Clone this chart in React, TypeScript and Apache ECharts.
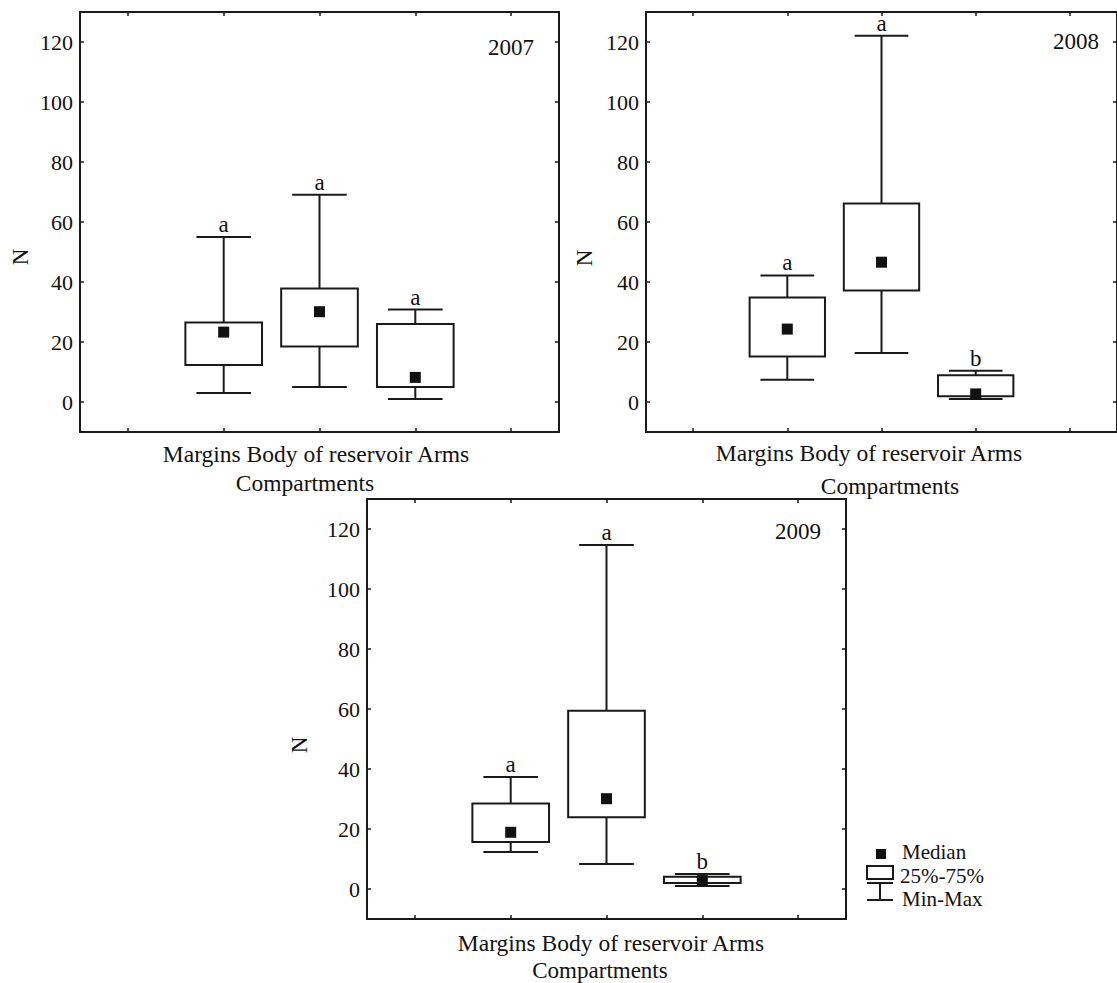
import React, { useEffect, useRef } from "react";
import * as echarts from "echarts";

const categories = ["Margins", "Body of reservoir", "Arms"];
const years = ["2007", "2008", "2009"];
const yTicks = [0, 20, 40, 60, 80, 100, 120];
const yName = "N";
const xTitle = "Compartments";

// 2007
const min2007 = [3, 5, 1];
const q1_2007 = [12.3, 18.5, 5];
const med2007 = [23.3, 30.1, 8.2];
const q3_2007 = [26.5, 37.8, 26];
const max2007 = [55, 69.1, 30.8];
const letters2007 = ["a", "a", "a"];
// 2008
const min2008 = [7.4, 16.3, 1];
const q1_2008 = [15.2, 37.2, 1.9];
const med2008 = [24.3, 46.6, 2.7];
const q3_2008 = [34.8, 66.2, 8.9];
const max2008 = [42.2, 122.1, 10.4];
const letters2008 = ["a", "a", "b"];
// 2009
const min2009 = [12.3, 8.3, 1];
const q1_2009 = [15.7, 23.9, 2];
const med2009 = [18.9, 30.1, 2.8];
const q3_2009 = [28.5, 59.4, 4.1];
const max2009 = [37.3, 114.7, 5];
const letters2009 = ["a", "a", "b"];

const legendLabels = ["Median", "25%-75%", "Min-Max"];

const FAMILY = "Liberation Serif";
const FONT = '"Liberation Serif", "Times New Roman", serif';
const INK = "#1a1a1a";

export default function App() {
  const ref = useRef<HTMLDivElement>(null);

  useEffect(() => {
    if (!ref.current) return;
    const chart = echarts.init(ref.current, undefined, { renderer: "svg" });

    const panels = [
      { min: min2007, q1: q1_2007, med: med2007, q3: q3_2007, max: max2007, letters: letters2007 },
      { min: min2008, q1: q1_2008, med: med2008, q3: q3_2008, max: max2008, letters: letters2008 },
      { min: min2009, q1: q1_2009, med: med2009, q3: q3_2009, max: max2009, letters: letters2009 },
    ];

    const grids = [
      { left: 80, top: 12, width: 479, height: 420 },
      { left: 646, top: 12, width: 479, height: 420 },
      { left: 367, top: 499, width: 479, height: 420 },
    ];

    const axisCats = ["", ...categories, ""];
    const xAxes: any[] = [];
    const yAxes: any[] = [];
    grids.forEach((_, g) => {
      ["bottom", "top"].forEach((pos) => {
        xAxes.push({
          gridIndex: g,
          type: "category",
          data: axisCats,
          position: pos,
          boundaryGap: true,
          axisLine: { show: true, onZero: false, lineStyle: { color: INK, width: 2 } },
          axisTick: { show: true, inside: true, alignWithLabel: true, interval: 0, length: 4, lineStyle: { color: INK, width: 1.5 } },
          axisLabel: { show: false },
          splitLine: { show: false },
        });
      });
      ["left", "right"].forEach((pos) => {
        yAxes.push({
          gridIndex: g,
          type: "value",
          position: pos,
          min: -10,
          max: 130,
          splitNumber: 7,
          minInterval: 20,
          maxInterval: 20,
          axisLine: { show: true, onZero: false, lineStyle: { color: INK, width: 2 } },
          axisTick: { show: true, inside: true, length: 4, lineStyle: { color: INK, width: 1.5 } },
          axisLabel: {
            show: pos === "left",
            fontFamily: FAMILY,
            fontSize: 22,
            color: "#111",
            margin: 7,
            formatter: (v: number) => (yTicks.includes(v) ? String(v) : ""),
          },
          splitLine: { show: false },
        });
      });
    });

    const series = panels.map((p, g) => ({
      type: "custom",
      xAxisIndex: g * 2,
      yAxisIndex: g * 2,
      clip: false,
      encode: { x: 0, y: [1, 2, 3, 4, 5] },
      data: categories.map((_, i) => [i + 1, p.min[i], p.q1[i], p.med[i], p.q3[i], p.max[i]]),
      renderItem: (params: any, api: any) => {
        const ci = api.value(0);
        const [x, yMin] = api.coord([ci, api.value(1)]);
        const yQ1 = api.coord([ci, api.value(2)])[1];
        const yMed = api.coord([ci, api.value(3)])[1];
        const yQ3 = api.coord([ci, api.value(4)])[1];
        const yMax = api.coord([ci, api.value(5)])[1];
        const band = api.size([1, 0])[0];
        const bw = band * 0.8;
        const cw = band * 0.57;
        const ls = { stroke: INK, lineWidth: 2, fill: null };
        const sq = 11;
        return {
          type: "group",
          children: [
            { type: "line", shape: { x1: x, y1: yMax, x2: x, y2: yMin }, style: ls },
            { type: "rect", shape: { x: x - bw / 2, y: yQ3, width: bw, height: yQ1 - yQ3 }, style: { fill: "#fff", stroke: INK, lineWidth: 2 } },
            { type: "line", shape: { x1: x - cw / 2, y1: yMax, x2: x + cw / 2, y2: yMax }, style: ls },
            { type: "line", shape: { x1: x - cw / 2, y1: yMin, x2: x + cw / 2, y2: yMin }, style: ls },
            { type: "rect", shape: { x: x - sq / 2, y: yMed - sq / 2, width: sq, height: sq }, style: { fill: "#111" } },
            {
              type: "text",
              x: x,
              y: yMax - 1,
              style: {
                text: p.letters[params.dataIndex],
                font: `23px ${FONT}`,
                fill: "#111",
                align: "center",
                verticalAlign: "bottom",
                textAlign: "center",
                textVerticalAlign: "bottom",
              },
            },
          ],
        };
      },
    }));

    const txt = (text: string, x: number, y: number, size: number, align = "center", rotation = 0) => ({
      type: "text",
      x,
      y,
      rotation,
      style: {
        text,
        font: `${size}px ${FONT}`,
        fill: "#111",
        align,
        verticalAlign: "middle",
        textAlign: align,
        textVerticalAlign: "middle",
      },
    });

    const xLine1 = categories.join(" ");
    const graphic: any[] = [
      // year labels
      txt(years[0], 511, 47, 23),
      txt(years[1], 1076, 41, 23),
      txt(years[2], 798, 531, 23),
      // y names
      txt(yName, 20, 257, 23, "center", Math.PI / 2),
      txt(yName, 584, 258, 23, "center", Math.PI / 2),
      txt(yName, 299, 745, 23, "center", Math.PI / 2),
      // x labels
      txt(xLine1, 316, 454, 23.5),
      txt(xTitle, 305, 483, 23.5),
      txt(xLine1, 869, 453, 23.5),
      txt(xTitle, 890, 486, 23.5),
      txt(xLine1, 611, 943, 23.5),
      txt(xTitle, 600, 970, 23),
      // legend
      { type: "rect", shape: { x: 876, y: 849, width: 10, height: 10 }, style: { fill: "#111" } },
      txt(legendLabels[0], 902, 852, 21, "left"),
      { type: "rect", shape: { x: 867, y: 866, width: 26, height: 13 }, style: { fill: "#fff", stroke: INK, lineWidth: 2 } },
      txt(legendLabels[1], 900, 876, 21, "left"),
      { type: "line", shape: { x1: 867, y1: 883, x2: 893, y2: 883 }, style: { stroke: INK, lineWidth: 2 } },
      { type: "line", shape: { x1: 880, y1: 883, x2: 880, y2: 900 }, style: { stroke: INK, lineWidth: 2 } },
      { type: "line", shape: { x1: 867, y1: 900, x2: 893, y2: 900 }, style: { stroke: INK, lineWidth: 2 } },
      txt(legendLabels[2], 902, 899, 21, "left"),
    ];

    chart.setOption({
      animation: false,
      backgroundColor: "#fff",
      textStyle: { fontFamily: FAMILY },
      grid: grids.map((g) => ({ ...g, containLabel: false })),
      xAxis: xAxes,
      yAxis: yAxes,
      series,
      graphic,
    });

    return () => chart.dispose();
  }, []);

  return (
    <div
      ref={ref}
      style={{ position: "absolute", left: 0, top: 0, width: 1117, height: 983, background: "#fff" }}
    />
  );
}
